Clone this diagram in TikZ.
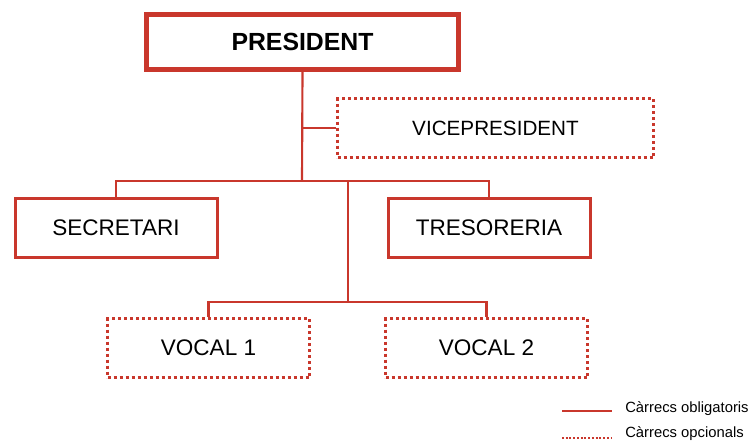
\documentclass[tikz,border=0pt]{standalone}
\usepackage{fontspec}
\setmainfont{Liberation Sans}
\usepackage{tikz}
\usetikzlibrary{positioning,calc}
\definecolor{carrecRed}{HTML}{C9372C}
\tikzset{
  carrec/.style={draw=carrecRed, line width=2.25pt, align=center, font=\fontsize{16.9}{19}\selectfont, minimum width=151.5pt, minimum height=44.25pt, inner sep=0pt},
  obligat/.style={carrec},
  opcional/.style={carrec, dash pattern=on 2.25pt off 2.25pt},
  presbox/.style={carrec, line width=3.75pt, font=\fontsize{18.6}{21}\selectfont\bfseries, minimum width=234pt, minimum height=41.25pt},
  conn/.style={draw=carrecRed, line width=1.6pt},
  llegenda/.style={font=\fontsize{11.1}{13}\selectfont, anchor=west, inner sep=0pt},
}
\begin{document}
\begin{tikzpicture}[x=0.75pt, y=-0.75pt]
\useasboundingbox (0,0) rectangle (749,444);
\node[presbox] (pres) at (302.5,41.5) {PRESIDENT};
\node[opcional, minimum width=237pt, font=\fontsize{15.5}{18}\selectfont] (vice) at (495.5,128) {VICEPRESIDENT};
\node[obligat] (sec) at (116,228) {SECRETARI};
\node[obligat] (tres) at (489,228) {TRESORERIA};
\node[opcional] (voc1) at (208.5,348) {VOCAL 1};
\node[opcional] (voc2) at (486.5,348) {VOCAL 2};
% branques
\coordinate (bus) at (302,181);
\coordinate (jvice) at (pres.south |- vice.west);
\coordinate (vtop) at (348,181);
\coordinate (vbus) at (348,302);
\draw[conn] (pres.south) -- (bus);
\draw[conn] (jvice) -- (vice.west);
\draw[conn] (sec.north) |- (bus) -| (tres.north);
\draw[conn] (vtop) -- (vbus);
\draw[conn] (voc1.north) |- (vbus) -| (voc2.north);
% llegenda
\node[llegenda] (lobl) at (625,409) {Càrrecs obligatoris};
\node[llegenda] (lopc) at (625,434) {Càrrecs opcionals};
\draw[conn, line width=2pt] ($(lobl.west)+(-63,2)$) -- ($(lobl.west)+(-13,2)$);
\draw[conn, line width=1.9pt, dash pattern=on 1.5pt off 1.3pt] ($(lopc.west)+(-63,4)$) -- ($(lopc.west)+(-13,4)$);
\end{tikzpicture}
\end{document}
